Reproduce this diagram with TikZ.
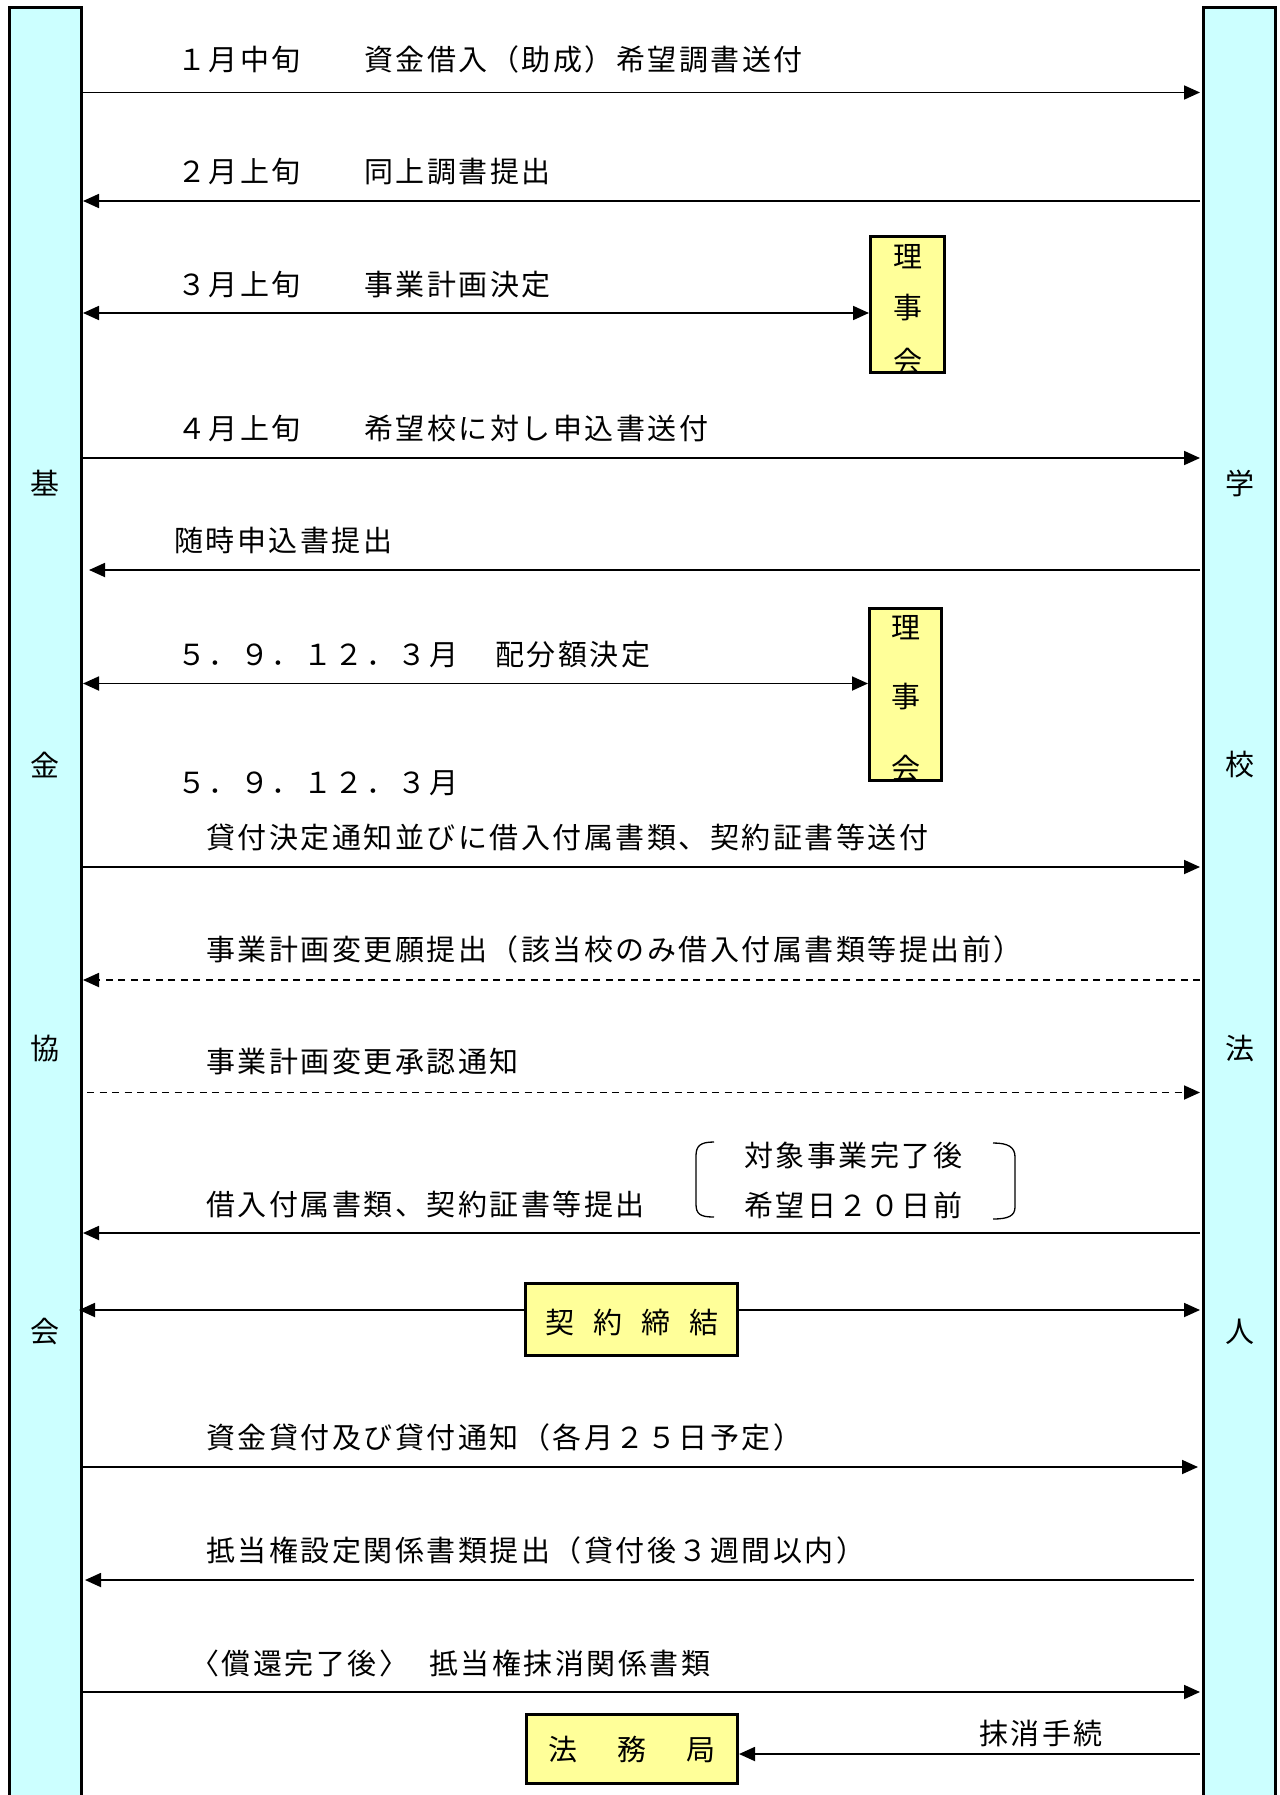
\documentclass[tikz,border=0pt]{standalone}
\usepackage{fontspec}
\setmainfont{Noto Sans CJK JP}
\newfontfamily\jpsp[LetterSpace=8.6]{Noto Sans CJK JP}
\newfontfamily\jpfont{Noto Sans CJK JP}
\usetikzlibrary{arrows.meta}
\definecolor{colfill}{HTML}{CCFFFF}
\definecolor{boxfill}{HTML}{FFFF99}
\tikzset{
  lbl/.style={anchor=west, inner sep=0pt, font=\jpsp\fontsize{29}{29}\selectfont, text height=24pt, text depth=2pt},
  collbl/.style={inner sep=0pt, font=\jpfont\fontsize{29}{29}\selectfont},
  boxlbl/.style={inner sep=0pt, font=\jpfont\fontsize{29}{29}\selectfont},
  colbox/.style={draw, line width=3pt, fill=colfill, minimum width=72pt, minimum height=1800pt, inner sep=0pt},
  ybox/.style={draw, line width=3pt, fill=boxfill, inner sep=0pt},
  tip/.tip={Triangle[length=16pt,width=14pt]},
  arr/.style={line width=1.8pt, -tip},
  darr/.style={line width=1.8pt, tip-tip},
  dsh/.style={dash pattern=on 7pt off 5.5pt},
  brk/.style={line width=1.3pt}
}
\begin{document}
\begin{tikzpicture}[x=1pt,y=-1pt]
\useasboundingbox (0,0) rectangle (1279,1795);
\clip (0,0) rectangle (1279,1795);
\fill[white] (0,0) rectangle (1279,1795);

% columns
\node[colbox] (L) at (45,908) {};
\node[colbox] (R) at (1239.5,908) {};
\node[collbl] (l1) at (45,483) {基};
\node[collbl] (l2) at (45,765) {金};
\node[collbl] (l3) at (45,1048) {協};
\node[collbl] (l4) at (45,1332) {会};
\node[collbl] (r1) at (1240,483) {学};
\node[collbl] (r2) at (1240,765) {校};
\node[collbl] (r3) at (1240,1048) {法};
\node[collbl] (r4) at (1240,1332) {人};

\coordinate (Le) at (83,0);
\coordinate (Re) at (1200,0);
\coordinate (y1) at (0,92.5);
\coordinate (y2) at (0,201);
\coordinate (y3) at (0,313);
\coordinate (y4) at (0,458);
\coordinate (y5) at (0,570);
\coordinate (y6) at (0,683.5);
\coordinate (y7) at (0,867);
\coordinate (y8) at (0,980);
\coordinate (y9) at (0,1092.5);
\coordinate (y10) at (0,1233);
\coordinate (y11) at (0,1310);
\coordinate (y12) at (0,1467);
\coordinate (y13) at (0,1580);
\coordinate (y14) at (0,1692);
\coordinate (y15) at (0,1754);

% boxes
\node[ybox, minimum width=74pt, minimum height=136pt] (rj1) at (907.5,304.5) {};
\begin{scope}
  \clip (871.5,237.5) rectangle (943.5,371.5);
  \node[collbl] (rj1a) at (907.5,257) {理};
  \node[collbl] (rj1b) at (907.5,308) {事};
  \node[collbl] (rj1c) at (907.5,362) {会};
\end{scope}
\node[ybox, minimum width=72pt, minimum height=172pt] (rj2) at (905.5,694.5) {};
\begin{scope}
  \clip (871,609) rectangle (940,780.5);
  \node[collbl] (rj2a) at (905.5,628) {理};
  \node[collbl] (rj2b) at (905.5,697) {事};
  \node[collbl] (rj2c) at (905.5,769) {会};
\end{scope}
\node[ybox, minimum width=212pt, minimum height=72pt] (kk) at (631.5,1319.5) {};
\node[boxlbl] (kkt) at (632,1322) {契\hspace{18.8pt}約\hspace{18.8pt}締\hspace{18.8pt}結};
\node[ybox, minimum width=211pt, minimum height=69pt] (hm) at (632,1749) {};
\node[boxlbl] (hmt) at (632,1749) {法\hspace{40pt}務\hspace{40pt}局};

% labels
\node[lbl] (t1a) at (177,60) {１月中旬};
\node[lbl] (t1b) at (364,60) {資金借入（助成）希望調書送付};
\node[lbl] (t2a) at (177,172) {２月上旬};
\node[lbl] (t2b) at (364,172) {同上調書提出};
\node[lbl] (t3a) at (177,284) {３月上旬};
\node[lbl] (t3b) at (364,284) {事業計画決定};
\node[lbl] (t4a) at (177,428) {４月上旬};
\node[lbl] (t4b) at (364,428) {希望校に対し申込書送付};
\node[lbl] (t5) at (174,540) {随時申込書提出};
\node[lbl] (t6a) at (177,654) {５．９．１２．３月};
\node[lbl] (t6b) at (495,654) {配分額決定};
\node[lbl] (t7a) at (177,782) {５．９．１２．３月};
\node[lbl] (t7b) at (206,837) {貸付決定通知並びに借入付属書類、契約証書等送付};
\node[lbl] (t8) at (206,949) {事業計画変更願提出（該当校のみ借入付属書類等提出前）};
\node[lbl] (t9) at (206,1061) {事業計画変更承認通知};
\node[lbl] (t10) at (206,1204) {借入付属書類、契約証書等提出};
\node[lbl] (t10b) at (744,1155) {対象事業完了後};
\node[lbl] (t10c) at (744,1205) {希望日２０日前};
\node[lbl] (t12) at (206,1437) {資金貸付及び貸付通知（各月２５日予定）};
\node[lbl] (t13) at (206,1550) {抵当権設定関係書類提出（貸付後３週間以内）};
\node[lbl] (t14a) at (190,1663) {〈償還完了後〉};
\node[lbl] (t14b) at (429,1663) {抵当権抹消関係書類};
\node[lbl, anchor=center] (t15) at (1041,1733) {抹消手続};

% brackets
\draw[brk] (714,1142) .. controls (700,1142) and (696,1146) .. (696,1156) -- (696,1204) .. controls (696,1214) and (700,1217) .. (714,1217);
\draw[brk] (993,1143) .. controls (1008,1143) and (1015,1147) .. (1015,1157) -- (1015,1207) .. controls (1015,1216) and (1008,1219) .. (993,1219);

% connectors
\draw[arr] (Le|-y1) -- (Re|-y1);
\draw[arr] (Re|-y2) -- (Le|-y2);
\draw[darr] (Le|-y3) -- (rj1.west|-y3);
\draw[arr] (Le|-y4) -- (Re|-y4);
\draw[arr] (Re|-y5) -- ([xshift=6pt]Le|-y5);
\draw[darr] (Le|-y6) -- (rj2.west|-y6);
\draw[arr] (Le|-y7) -- (Re|-y7);
\draw[arr, dsh] (Re|-y8) -- (Le|-y8);
\draw[arr, dsh] ([xshift=4pt]Le|-y9) -- (Re|-y9);
\draw[arr] (Re|-y10) -- (Le|-y10);
\draw[arr] (kk.west|-y11) -- ([xshift=-4pt]Le|-y11);
\draw[arr] (kk.east|-y11) -- (Re|-y11);
\draw[arr] (Le|-y12) -- ([xshift=-2pt]Re|-y12);
\draw[arr] ([xshift=-6pt]Re|-y13) -- ([xshift=2pt]Le|-y13);
\draw[arr] (Le|-y14) -- (Re|-y14);
\draw[arr] (Re|-y15) -- (hm.east|-y15);
\end{tikzpicture}
\end{document}
